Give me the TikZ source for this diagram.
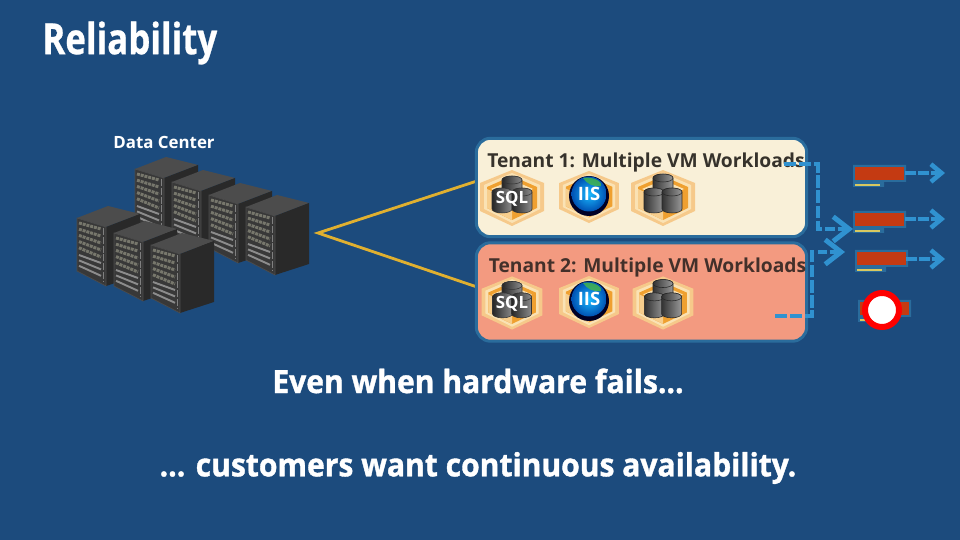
\documentclass[tikz,border=0pt]{standalone}
\usepackage{fontspec}
\setmainfont{Open Sans}
\newfontfamily\titlefont[FakeStretch=0.81,BoldFeatures={FakeBold=0.6}]{Open Sans}
\newfontfamily\headfont[FakeStretch=0.94,BoldFeatures={FakeBold=1.2}]{Open Sans}
\usetikzlibrary{arrows.meta}
\definecolor{slide}{HTML}{1C4B7D}
\definecolor{edgeblue}{HTML}{2A6C9C}
\definecolor{dashblue}{HTML}{3092D0}
\definecolor{cream}{HTML}{F9F0D8}
\definecolor{salmon}{HTML}{F39A80}
\definecolor{wire}{HTML}{E0B030}
\definecolor{hexband}{HTML}{F6C98A}
\definecolor{hexwall}{HTML}{EFA030}
\definecolor{hexface}{HTML}{FAE2B4}
\definecolor{cardred}{HTML}{C43A12}
\definecolor{cardline}{HTML}{D8C860}
\definecolor{inkA}{HTML}{36322B}
\definecolor{inkB}{HTML}{43302A}
\definecolor{slot}{HTML}{77776C}
\tikzset{
  tenantbox/.style={draw=edgeblue,line width=1.7pt,rounded corners=8pt,minimum width=188pt,minimum height=56pt,inner sep=0pt},
  tenantlabel/.style={font=\fontsize{10.95}{13}\selectfont\bfseries,inner sep=0pt},
  headline/.style={text=white,font=\headfont\fontsize{18.2}{21}\selectfont\bfseries,inner sep=0pt},
  wireline/.style={wire,line width=1.6pt},
  dashline/.style={dashblue,line width=2.6pt,dash pattern=on 7pt off 1.6pt},
  tipsmall/.style={dashblue,line width=2.6pt,dash pattern=on 6pt off 1.4pt,-{Straight Barb[length=6pt,width=10pt,line width=2.6pt]}},
  tiplarge/.style={dashblue,line width=2.8pt,dash pattern=on 5pt off 1.6pt,-{Straight Barb[length=9pt,width=14pt,line width=2.8pt]}},
  rack/.pic={
    \fill[black!70!white] (0,0)--(31,-12)--(63,-4)--(29,9)--cycle;
    \fill[black!84!white] (29,9)--(63,-4)--(63,57)--(29,68)--cycle;
    \fill[black!78!white] (0,0)--(29,9)--(29,68)--(0,53)--cycle;
    \foreach \r in {0,1,2,3,4}
      \draw[slot,line width=1.7pt,dash pattern=on 1.7pt off .5pt]
        (2,5+6.2*\r)--(24,11+7*\r);
    \foreach \r in {0,1,2}
      \draw[gray!90!white,line width=1.1pt] (2,37+5.4*\r)--(24,45+6.4*\r);
    \draw[gray,line width=.5pt,dash pattern=on 4pt off 1pt] (26.5,10)--(26.5,64);
    \draw[gray!60!black,line width=.4pt] (0,0)--(29,9)--(29,68)--(0,53)--cycle;
  },
  hexcell/.pic={
    \fill[hexband] (0,-28)--(32,-15)--(32,13)--(0,28)--(-32,13)--(-32,-15)--cycle;
    \fill[hexface] (0,-25)--(28,-13)--(28,11)--(0,25)--(-28,11)--(-28,-13)--cycle;
    \fill[hexwall] (0,-22)--(25,-11)--(25,10)--(0,22)--(-25,10)--(-25,-11)--cycle;
    \fill[hexface] (0,-18)--(21,-9)--(0,0)--(-21,-9)--cycle;
    \fill[hexface!70!hexwall] (-25,-9)--(0,2)--(0,22)--(-25,10)--cycle;
  },
  drum/.style={left color=black!85,right color=black!45,draw=black!80,line width=.3pt},
  drum pale/.style={left color=black!80,right color=black!40,draw=black!85,line width=.3pt},
  can/.pic={
    \path[pic actions] (-10,-9) arc[start angle=180,end angle=360,x radius=10,y radius=4]
      --(10,8) arc[start angle=0,end angle=180,x radius=10,y radius=4]--cycle;
    \path[pic actions] (0,-9) ellipse[x radius=10,y radius=4];
  },
  sqlicon/.pic={
    \pic[drum] at (0,-9) {can};
    \pic[drum] at (-10,3) {can};
    \pic[drum] at (10,3) {can};
    \node (#1) at (0,1) [text=white,font=\fontsize{9.6}{11}\selectfont\bfseries,inner sep=0pt]{SQL};
  },
  dbicon/.pic={
    \pic[drum pale] at (0,-11) {can};
    \pic[drum pale] at (-9,3) {can};
    \pic[drum pale] at (9,3) {can};
  },
  iisicon/.pic={
    \fill[black!85!blue] (0,-1) circle [radius=20];
    \shade[inner color=cyan!70!blue!90!white,outer color=blue!55!cyan!70!black] (0,-3) circle [radius=17.5];
    \fill[green!45!gray,opacity=.8] (-6,-19) .. controls (6,-21) and (14,-14) .. (12,-11) .. controls (4,-10) and (-2,-13) .. (-6,-19);
    \node (#1) at (0,-3) [text=white,font=\fontsize{10.5}{12}\selectfont\bfseries,inner sep=0pt]{IIS};
  },
  card/.pic={
    \fill[edgeblue] (-2,-2)--(51,-2)--(51,15)--(29,15)--(29,20)--(-2,20)--cycle;
    \fill[cardred] (0,0) rectangle (49,13);
    \draw[cardline,line width=.8pt] (0,18)--(25,18);
  }
}
\begin{document}
\begin{tikzpicture}[x=0.02cm,y=-0.02cm]
\fill[slide] (0,0) rectangle (960,540);

\node (title) at (42,43) [anchor=west,text=white,inner sep=0pt,font=\titlefont\fontsize{24.5}{28}\selectfont\bfseries]{Reliability};
\node (dclabel) at (164,142) [text=white,inner sep=0pt,font=\fontsize{9.6}{11}\selectfont\bfseries]{Data Center};

% racks, rear row first
\pic at (135,169) {rack};
\pic at (172,182) {rack};
\pic at (209,195) {rack};
\pic at (246,207) {rack};
\pic at (77,218) {rack};
\pic at (114,233) {rack};
\pic at (151,245) {rack};

\coordinate (hub) at (318,233);
\coordinate (tone) at (477,181);
\coordinate (ttwo) at (477,287);
\draw[wireline] (tone)--(hub)--(ttwo);

\node (tenantA) at (641.5,187.5) [tenantbox,fill=cream]{};
\node (tenantB) at (641.5,292) [tenantbox,fill=salmon]{};

\node (labelA) at (646,163) [tenantlabel,text=inkA]{Tenant 1: Multiple VM Workloads};
\node (labelB) at (647.5,268) [tenantlabel,text=inkB]{Tenant 2: Multiple VM Workloads};

% tenant 1
\pic at (512,198) {hexcell};
\pic at (512,198) {sqlicon=sqlA};
\pic at (589,197) [scale=.93] {hexcell};
\pic at (589,197) {iisicon=iisA};
\pic at (663,198) {hexcell};
\pic at (663,198) {dbicon};

% tenant 2
\pic at (512,303) [scale=.95] {hexcell};
\pic at (512,303) [scale=.95] {sqlicon=sqlB};
\pic at (589,302) [scale=.93] {hexcell};
\pic at (589,302) {iisicon=iisB};
\pic at (663,303) [scale=.95] {hexcell};
\pic at (663,303) [scale=.95] {dbicon};

% nic cards
\pic at (855,167) {card};
\pic at (855,213) {card};
\pic at (857,252) {card};
\pic at (860,302) {card};

\coordinate (fromA) at (784,164);
\coordinate (bendA) at (818,164);
\coordinate (downA) at (818,229);
\coordinate (intoA) at (853,229);
\draw[dashline] (fromA)--(bendA)--(downA)--(826,229);
\draw[tiplarge] (826,229)--(intoA);

\coordinate (fromB) at (775,316);
\coordinate (bendB) at (812,316);
\coordinate (upB) at (812,250);
\draw[dashline] (fromB)--(bendB)--(upB);
\coordinate (startB) at (818,252);
\coordinate (intoB) at (845,252);
\draw[tiplarge] (startB)--(intoB);

\coordinate (outA) at (905,173);
\coordinate (endA) at (945,173);
\coordinate (outB) at (905,219);
\coordinate (endB) at (945,219);
\coordinate (outC) at (906,259);
\coordinate (endC) at (945,259);
\draw[tipsmall] (outA)--(endA);
\draw[tipsmall] (outB)--(endB);
\draw[tipsmall] (outC)--(endC);

\draw[fill=white,draw=red,line width=3.4pt] (882,310) circle [radius=17];

\node (lineA) at (478,381) [headline]{Even when hardware fails...};
\node (lineB) at (478,468) [headline]{... customers want continuous availability.};
\end{tikzpicture}
\end{document}
